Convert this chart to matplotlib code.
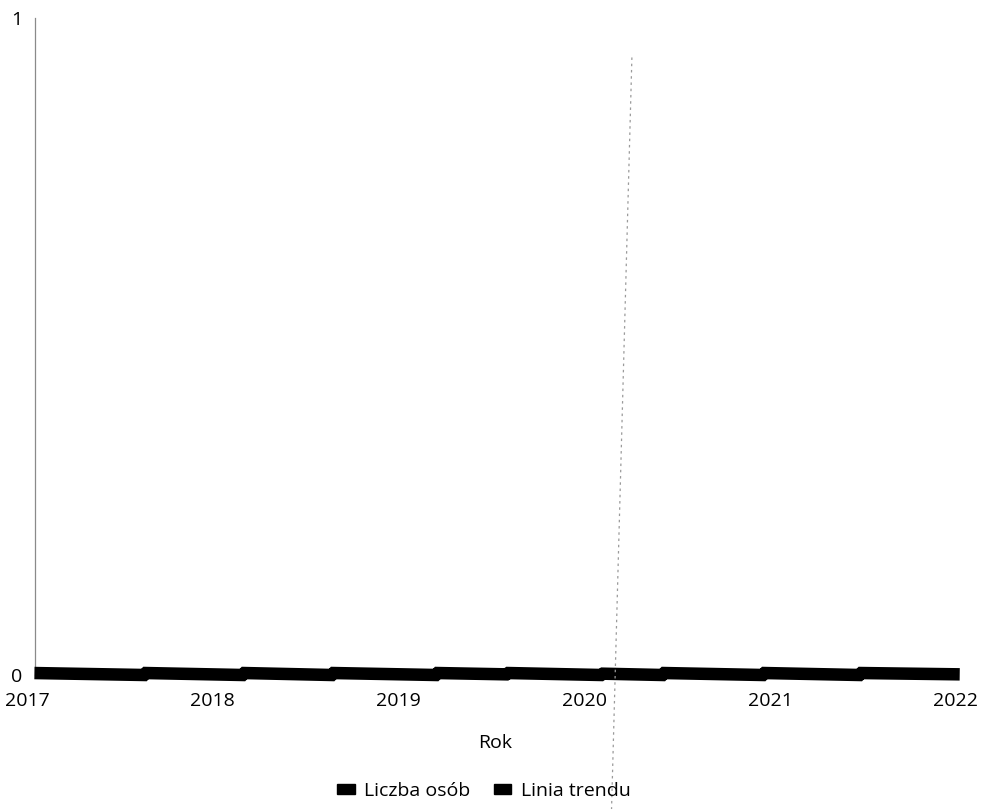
import numpy as np
import matplotlib
matplotlib.use('Agg')
import matplotlib.pyplot as plt
from matplotlib.patches import Patch

plt.rcParams['font.family'] = ['Open Sans', 'DejaVu Sans']

# Liczba osób - values near zero on a 0..1 axis
rok = [2017.04, 2017.63, 2017.64, 2018.16, 2018.17, 2018.64, 2018.65,
       2019.20, 2019.21, 2019.58, 2019.59, 2020.09, 2020.10, 2020.42,
       2020.43, 2020.96, 2020.97, 2021.48, 2021.49, 2022.02]
liczba_osob = [0.003, 0.000, 0.003, 0.000, 0.003, 0.000, 0.003,
               0.000, 0.003, 0.001, 0.003, 0.000, 0.002, 0.000,
               0.003, 0.000, 0.003, 0.000, 0.003, 0.001]

# Linia trendu - very steep line around 2020
trend_rok = [2020.146, 2020.256]
trend_val = [-0.205, 0.944]

y_ticks = [0, 1]
x_ticks = [2017, 2018, 2019, 2020, 2021, 2022]

fig = plt.figure(figsize=(9.84, 8.09), dpi=100)
ax = fig.add_axes([27 / 984, 1 - 675 / 809, 929 / 984, 657 / 809])

ax.plot(rok, liczba_osob, color='black', linewidth=9, solid_capstyle='butt',
        solid_joinstyle='miter', clip_on=False, label='Liczba osób', zorder=3)
ax.plot(trend_rok, trend_val, color='#9a9a9a', linewidth=0.9,
        linestyle=(0, (2, 3)), clip_on=False, label='Linia trendu', zorder=4)

ax.set_xlim(2017, 2022)
ax.set_ylim(0, 1)
ax.set_xticks(x_ticks)
ax.set_xticklabels([str(x) for x in x_ticks])
ax.set_yticks(y_ticks)
ax.tick_params(length=0, labelsize=14, colors='black')
ax.tick_params(axis='x', pad=12)
ax.tick_params(axis='y', pad=9)

for s in ['top', 'right', 'bottom']:
    ax.spines[s].set_visible(False)
ax.spines['left'].set_position(('data', 2017.043))
ax.spines['left'].set_color('#8a8a8a')
ax.spines['left'].set_linewidth(0.9)
ax.spines['left'].set_linestyle((0, (4, 1)))

ax.set_xlabel('Rok', fontsize=14)
ax.xaxis.set_label_coords((495 - 27) / 929, (675 - 734) / 657)

handles = [Patch(facecolor='black', edgecolor='black', label='Liczba osób'),
           Patch(facecolor='black', edgecolor='black', label='Linia trendu')]
fig.legend(handles=handles, loc='center', bbox_to_anchor=(484 / 984, 1 - 791 / 809),
           ncol=2, frameon=False, fontsize=14, handlelength=0.9, handleheight=0.4,
           handletextpad=0.5, columnspacing=1.2)

fig.savefig('out.png', dpi=100)
